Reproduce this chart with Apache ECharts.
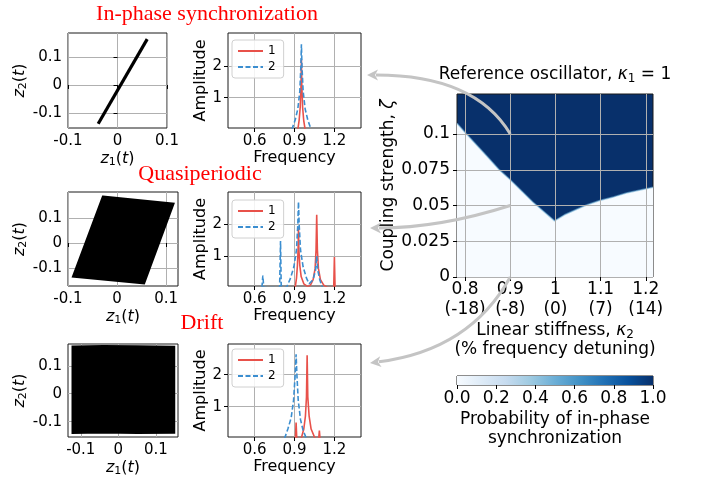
<!DOCTYPE html>
<html><head><meta charset="utf-8">
<script src="https://cdn.jsdelivr.net/npm/echarts@6/dist/echarts.min.js"></script>
<style>html,body{margin:0;padding:0;background:#fff}#c{width:702px;height:479px}</style>
</head><body><div id="c"></div>
<script>
// ---------------- data ----------------
// phase portraits z1(t), z2(t)
const inphaseZ1 = [-0.039, 0.060];
const inphaseZ2 = [-0.139, 0.164];
const quasiZ1 = [-0.029, 0.115, 0.055, -0.090];
const quasiZ2 = [0.186, 0.158, -0.162, -0.135];
const driftZ1 = [-0.122, -0.040, 0.050, 0.149, 0.149, 0.050, -0.040, -0.122];
const driftZ2 = [0.169, 0.171, 0.170, 0.168, -0.140, -0.141, -0.139, -0.141];

// spectra (frequency, amplitude) — oscillator 1 and 2
const inphaseFreq1 = [0.925, 0.935, 0.943, 0.949, 0.952, 0.955, 0.961, 0.969, 0.98];
const inphaseAmp1  = [0, 0.3, 0.7, 1.4, 2.2, 1.4, 0.7, 0.3, 0];
const inphaseFreq2 = [0.88, 0.905, 0.925, 0.94, 0.948, 0.952, 0.956, 0.965, 0.98, 1.0, 1.025];
const inphaseAmp2  = [0, 0.3, 0.65, 1.2, 2.0, 2.68, 2.0, 1.2, 0.65, 0.3, 0];

const quasiFreq1 = [0.905, 0.915, 0.922, 0.927, 0.93, 0.933, 0.94, 0.95, 0.97, 1.0, 1.02, 1.04, 1.055, 1.062, 1.067, 1.072, 1.08, 1.095, 1.12, 1.15, 1.195, 1.2, 1.205];
const quasiAmp1  = [0, 0.3, 0.7, 1.2, 1.9, 1.2, 0.7, 0.35, 0.12, 0.03, 0.08, 0.25, 0.6, 1.2, 2.31, 1.2, 0.6, 0.25, 0.08, 0, 0, 0.97, 0];
const quasiFreq2 = [0.655, 0.662, 0.669, 0.788, 0.795, 0.80, 0.81, 0.84, 0.87, 0.895, 0.915, 0.925, 0.93, 0.935, 0.945, 0.965, 0.99, 1.01, 1.04, 1.058, 1.067, 1.075, 1.09, 1.11];
const quasiAmp2  = [0, 0.38, 0, 0, 1.48, 0.06, 0, 0, 0.3, 0.65, 1.2, 2.0, 2.72, 2.0, 1.2, 0.65, 0.3, 0.12, 0.25, 0.55, 1.0, 0.55, 0.25, 0];

const driftFreq1 = [0.907, 0.912, 0.917, 0.95, 0.97, 0.982, 0.99, 0.995, 1.0, 1.01, 1.025, 1.055, 1.082, 1.087, 1.092];
const driftAmp1  = [0, 0.5, 0, 0, 0.3, 0.7, 1.3, 2.61, 1.3, 0.7, 0.3, 0, 0, 0.25, 0];
const driftFreq2 = [0.825, 0.85, 0.875, 0.893, 0.905, 0.912, 0.918, 0.928, 0.945, 0.965, 0.99];
const driftAmp2  = [0, 0.3, 0.65, 1.2, 2.0, 2.64, 2.0, 1.2, 0.6, 0.25, 0];

// synchronization boundary (kappa2, zeta) of the probability map
const boundaryKappa = [0.782, 0.8, 0.85, 0.876, 0.9, 0.95, 0.998, 1.02, 1.046, 1.07, 1.098, 1.13, 1.157, 1.185, 1.216];
const boundaryZeta  = [0.1075, 0.101, 0.084, 0.0749, 0.068, 0.0525, 0.0393, 0.0435, 0.0472, 0.0505, 0.0535, 0.0562, 0.0588, 0.0607, 0.0628];

// tick labels
const phaseTicks = [-0.1, 0, 0.1];
const freqTicks = [0.6, 0.9, 1.2];
const ampTicks = [1, 2];
const kappaTicks = [0.8, 0.9, 1, 1.1, 1.2];
const detuningLabels = ['(-18)', '(-8)', '(0)', '(7)', '(14)'];
const zetaTicks = [0, 0.025, 0.05, 0.075, 0.1];
const colorbarTicks = [0, 0.2, 0.4, 0.6, 0.8, 1.0];
const regimePoints = [[0.9, 0.1], [0.9, 0.05], [0.9, 0.0]]; // arrow origins
const blues = ['#f7fbff', '#deebf7', '#c6dbef', '#9ecae1', '#6baed6', '#4292c6', '#2171b5', '#08519c', '#08306b'];

// ---------------- chart ----------------
const FONT = 'DejaVu Sans';
const GRIDC = '#b0b0b0';
const RED = '#e8514a', BLUE = '#3b8ed0';
const pairs = (a, b) => a.map((v, i) => [v, b[i]]);
const chart = echarts.init(document.getElementById('c'));

const gridRects = [
  [68, 33, 99, 95], [68, 192, 110, 94], [68, 344, 110, 93],
  [228, 33, 133, 95], [228, 192, 133, 94], [228, 344, 133, 93],
  [457, 94, 196, 183], [457, 376, 196, 9]
];
const grid = gridRects.map((r, i) => ({
  left: r[0], top: r[1], width: r[2], height: r[3], show: true,
  borderColor: '#1a1a1a', borderWidth: 1,
  backgroundColor: i === 6 ? '#08306b' : '#fff', containLabel: false
}));

const richBase = (fs, lh) => ({
  n: { fontFamily: FONT, fontSize: fs, color: '#000', lineHeight: lh || fs + 4 },
  i: { fontFamily: FONT, fontSize: fs, color: '#000', fontStyle: 'italic', lineHeight: lh || fs + 4 },
  s: { fontFamily: FONT, fontSize: Math.round(fs * 0.7), color: '#000', padding: [Math.round(fs * 0.45), 0, 0, 0], lineHeight: lh || fs + 4 }
});

function vAxis(gi, min, max, ticks, fs, fmt, extra) {
  const a = {
    type: 'value', gridIndex: gi, min: min, max: max,
    axisLine: { show: false },
    axisTick: { show: true, inside: false, length: 4, lineStyle: { color: '#000', width: 1 }, customValues: ticks },
    axisLabel: { customValues: ticks, color: '#000', fontFamily: FONT, fontSize: fs, margin: 6, formatter: fmt },
    splitLine: { show: true, lineStyle: { color: GRIDC, width: 1 } }
  };
  return Object.assign(a, extra || {});
}
const num = v => (v === 0 ? '0' : String(+v.toFixed(4)));

const phaseRanges = [
  { x: [-0.1, 0.1], y: [-0.154, 0.186] },
  { x: [-0.1, 0.124], y: [-0.172, 0.204] },
  { x: [-0.134, 0.159], y: [-0.155, 0.178] }
];
const specMax = [3.03, 3.03, 2.96];

const xAxis = [], yAxis = [];
phaseRanges.forEach((r, k) => {
  xAxis.push(vAxis(k, r.x[0], r.x[1], phaseTicks, 15, num, {
    name: '{i|z}{s|1}{n|(}{i|t}{n|)}', nameLocation: 'middle', nameGap: 17,
    nameTextStyle: { rich: richBase(16) }
  }));
  yAxis.push(vAxis(k, r.y[0], r.y[1], phaseTicks, 15, num, {
    name: '{i|z}{s|2}{n|(}{i|t}{n|)}', nameLocation: 'middle', nameGap: 32, nameRotate: 90,
    nameTextStyle: { rich: richBase(16) }
  }));
});
specMax.forEach((m, k) => {
  xAxis.push(vAxis(3 + k, 0.4, 1.4, freqTicks, 15, num, {
    name: 'Frequency', nameLocation: 'middle', nameGap: 19,
    nameTextStyle: { fontFamily: FONT, fontSize: 16, color: '#000' }
  }));
  yAxis.push(vAxis(3 + k, 0.05, m, ampTicks, 15, num, {
    name: 'Amplitude', nameLocation: 'middle', nameGap: 15, nameRotate: 90,
    nameTextStyle: { fontFamily: FONT, fontSize: 16, color: '#000' }
  }));
});
// heatmap axes
xAxis.push(vAxis(6, 0.782, 1.216, kappaTicks, 17,
  v => { const i = kappaTicks.findIndex(t => Math.abs(t - v) < 1e-6); return i < 0 ? '' : num(v) + '\n' + detuningLabels[i]; },
  { z: 5, name: '{n|Linear stiffness, }{i|κ}{s|2}\n{n|(% frequency detuning)}', nameLocation: 'middle', nameGap: 43,
    nameTextStyle: { lineHeight: 19, rich: richBase(17, 19) } }));
xAxis[6].axisLabel.lineHeight = 20;
xAxis[6].axisLabel.margin = 3;
yAxis.push(vAxis(6, 0, 0.128, zetaTicks, 17, num, {
  z: 5, name: '{n|Coupling strength, }{i|ζ}', nameLocation: 'middle', nameGap: 55, nameRotate: 90,
  nameTextStyle: { rich: richBase(17) }
}));
yAxis[6].axisLabel.margin = 7;
// colorbar axes
xAxis.push(vAxis(7, 0, 1, colorbarTicks, 17, v => v.toFixed(1), {
  splitLine: { show: false },
  name: 'Probability of in-phase\nsynchronization', nameLocation: 'middle', nameGap: 25,
  nameTextStyle: { fontFamily: FONT, fontSize: 17, color: '#000', lineHeight: 19 }
}));
xAxis[7].axisLabel.margin = 5;
yAxis.push({ type: 'category', gridIndex: 7, data: [''], show: false });

function lineSeries(name, gi, fr, am, color, dashed) {
  return {
    name: name, type: 'line', xAxisIndex: gi, yAxisIndex: gi, data: pairs(fr, am),
    symbol: 'none', clip: true, z: dashed ? 4 : 3,
    lineStyle: { color: color, width: 1.6, type: dashed ? [5, 2.5] : 'solid' },
    itemStyle: { color: color }
  };
}
function polySeries(gi, xs, ys) {
  const pts = pairs(xs, ys);
  return {
    type: 'custom', xAxisIndex: gi, yAxisIndex: gi, data: pts, clip: true, silent: true,
    renderItem: (params, api) => {
      if (params.dataIndex !== 0) return null;
      return { type: 'polygon', shape: { points: pts.map(p => api.coord(p)) },
        style: { fill: '#000', stroke: '#000', lineWidth: 2 } };
    }
  };
}

const series = [
  { type: 'line', xAxisIndex: 0, yAxisIndex: 0, data: pairs(inphaseZ1, inphaseZ2), symbol: 'none',
    lineStyle: { color: '#000', width: 3.2 }, silent: true },
  polySeries(1, quasiZ1, quasiZ2),
  polySeries(2, driftZ1, driftZ2),
  lineSeries('1', 3, inphaseFreq1, inphaseAmp1, RED, false),
  lineSeries('2', 3, inphaseFreq2, inphaseAmp2, BLUE, true),
  lineSeries('1', 4, quasiFreq1, quasiAmp1, RED, false),
  lineSeries('2', 4, quasiFreq2, quasiAmp2, BLUE, true),
  lineSeries('1', 5, driftFreq1, driftAmp1, RED, false),
  lineSeries('2', 5, driftFreq2, driftAmp2, BLUE, true),
  { type: 'line', xAxisIndex: 6, yAxisIndex: 6, data: pairs(boundaryKappa, boundaryZeta), symbol: 'none',
    lineStyle: { color: 'rgba(107,174,214,0.55)', width: 1.5 }, areaStyle: { color: blues[0], opacity: 1, origin: 'start' },
    silent: true, z: 2 },
  { type: 'bar', xAxisIndex: 7, yAxisIndex: 7, data: [colorbarTicks[colorbarTicks.length - 1]], barWidth: '100%', silent: true,
    itemStyle: { color: new echarts.graphic.LinearGradient(0, 0, 1, 0, blues.map((c, i) => ({ offset: i / (blues.length - 1), color: c }))) } }
];

const legend = [40, 200, 349].map(t => ({
  data: ['1', '2'], orient: 'vertical', left: 232, top: t,
  itemWidth: 25, itemHeight: 10, itemGap: 4, selectedMode: false,
  itemStyle: { opacity: 0, color: 'rgba(0,0,0,0)', borderColor: 'rgba(0,0,0,0)', borderWidth: 0 },
  textStyle: { fontFamily: FONT, fontSize: 12, color: '#000' },
  padding: [5, 8, 5, 5], backgroundColor: 'rgba(255,255,255,0.85)',
  borderColor: '#d0d0d0', borderWidth: 1, borderRadius: 3
}));

const serif = 'Liberation Serif';
const titles = [
  { text: 'In-phase synchronization', x: 207, y: 14 },
  { text: 'Quasiperiodic', x: 200, y: 174 },
  { text: 'Drift', x: 202, y: 323 }
].map(t => ({
  type: 'text', x: t.x, y: t.y, z: 20,
  style: { text: t.text, fill: '#ff0000', font: '22px "' + serif + '"', align: 'center', verticalAlign: 'middle' }
}));
titles.push({
  type: 'text', x: 555, y: 75, z: 20,
  style: { text: '{n|Reference oscillator, }{i|κ}{s|1}{n| = 1}', rich: richBase(17), align: 'center', verticalAlign: 'middle' }
});

chart.setOption({ animation: false, grid, xAxis, yAxis, series, legend, graphic: titles });

// curved arrows from the map to the panels
const arrowEnds = [[367, 75], [370, 228], [370, 363]];
const arrowCtrl = [[475, 75], [440, 228], [470, 350]];
const ARC = '#c4c4c4';
const arrows = [];
regimePoints.forEach((p, k) => {
  const s = chart.convertToPixel({ gridIndex: 6 }, p);
  const e = arrowEnds[k], c = arrowCtrl[k];
  const dx = e[0] - c[0], dy = e[1] - c[1], L = Math.hypot(dx, dy);
  const ux = dx / L, uy = dy / L, px = -uy, py = ux;
  const hl = 11, hw = 5.5;
  const bx = e[0] - ux * hl, by = e[1] - uy * hl;
  arrows.push({ type: 'bezierCurve', z: 30, silent: true,
    shape: { x1: s[0], y1: s[1], x2: bx + ux * 2, y2: by + uy * 2, cpx1: c[0], cpy1: c[1] },
    style: { stroke: ARC, lineWidth: 3, fill: null } });
  arrows.push({ type: 'polygon', z: 30, silent: true,
    shape: { points: [e, [bx + px * hw, by + py * hw], [bx + ux * 3, by + uy * 3], [bx - px * hw, by - py * hw]] },
    style: { fill: ARC } });
});
chart.setOption({ graphic: titles.concat(arrows) });
</script></body></html>
